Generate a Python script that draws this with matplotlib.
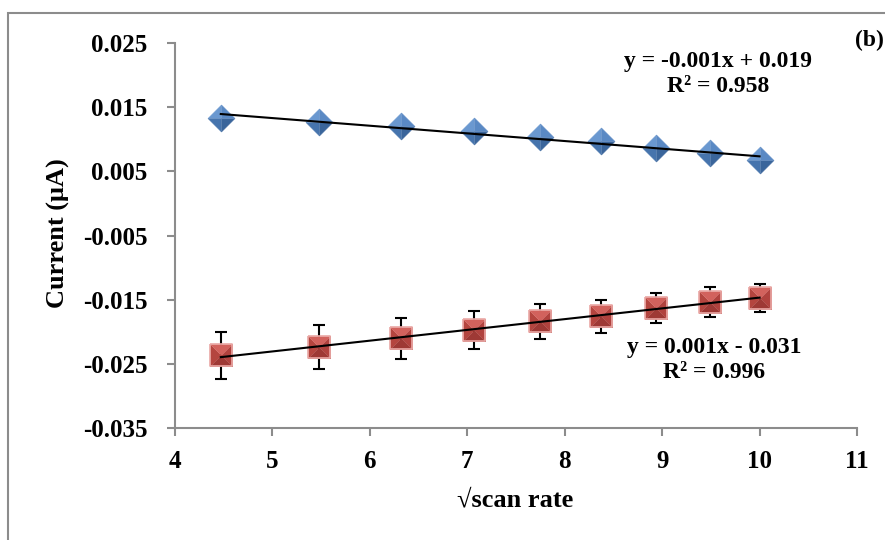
import matplotlib
matplotlib.use("Agg")
import matplotlib.pyplot as plt
import numpy as np
from matplotlib.patches import Rectangle

# sqrt of scan rate (20 ... 100 mV/s)
sqrt_scan = [4.47, 5.48, 6.32, 7.07, 7.75, 8.37, 8.94, 9.49, 10.0]

# anodic and cathodic peak currents
anodic = [0.0133, 0.0127, 0.0120, 0.0113, 0.0103, 0.0097, 0.0086, 0.0078, 0.0067]
cathodic = [-0.0237, -0.0224, -0.0210, -0.0197, -0.0184, -0.0176, -0.0163, -0.0154, -0.0147]
cathodic_err = [0.0036, 0.0034, 0.0032, 0.0030, 0.0028, 0.0026, 0.0024, 0.0023, 0.0022]

plt.rcParams["font.family"] = ["Liberation Serif", "DejaVu Serif"]
plt.rcParams["font.weight"] = "bold"

W, H = 885, 540
fig = plt.figure(figsize=(W / 100, H / 100), dpi=100)
fig.patch.set_facecolor("white")

# outer chart frame
fig.patches.append(Rectangle((8 / W, -0.1), 1.2, 1 - 13 / H + 0.1, transform=fig.transFigure,
                             fill=False, edgecolor="#8c8c8c", linewidth=1.5))

ax = fig.add_axes([175 / W, 1 - 428 / H, (857 - 175) / W, (428 - 43) / H])

x = np.array(sqrt_scan)


def bevel_markers(ax, xs, ys, corners, shades, size, edge=None):
    """Draw a faceted (bevelled) marker: one triangle per side, meeting at the centre."""
    n = len(corners)
    for i in range(n):
        tri = [corners[i], corners[(i + 1) % n], (0, 0)]
        ax.plot(xs, ys, linestyle="none", marker=tri, markersize=size,
                markerfacecolor=shades[i], markeredgecolor=shades[i], markeredgewidth=0.3, zorder=3)
    if edge is not None:
        ax.plot(xs, ys, linestyle="none", marker=corners + [corners[0]], markersize=size,
                markerfacecolor="none", markeredgecolor=edge, markeredgewidth=1.2, zorder=3)


# trend lines
for ys in (anodic, cathodic):
    k, b = np.polyfit(x, ys, 1)
    ax.plot([x.min(), x.max()], [k * x.min() + b, k * x.max() + b], color="black", lw=1.5, zorder=4)

ax.errorbar(x, cathodic, yerr=cathodic_err, fmt="none", ecolor="black", elinewidth=1.5,
            capsize=4.5, capthick=1.5, zorder=2)

# facet order: top-left, bottom-left, bottom-right, top-right
diamond = [(0, 1), (-1, 0), (0, -1), (1, 0)]
bevel_markers(ax, x, anodic, diamond,
              ["#6a98d0", "#4674ad", "#3a659b", "#5a89c4"], 19.5)

# facet order: left, bottom, right, top
square = [(-1, 1), (-1, -1), (1, -1), (1, 1)]
bevel_markers(ax, x, cathodic, square,
              ["#b4453f", "#9e3935", "#b0423e", "#d2625d"], 16, edge="#eaa8a5")

ax.set_xlim(4, 11)
ax.set_ylim(-0.035, 0.025)
ax.set_xticks(range(4, 12))
ax.set_yticks(np.arange(-0.035, 0.0251, 0.01))
ax.set_yticklabels(["-0.035", "-0.025", "-0.015", "-0.005", "0.005", "0.015", "0.025"])

for side in ("top", "right"):
    ax.spines[side].set_visible(False)
for side in ("left", "bottom"):
    ax.spines[side].set_color("#8c8c8c")
    ax.spines[side].set_linewidth(1.5)
ax.tick_params(axis="both", direction="out", length=5.8, width=1.5, color="#8c8c8c", labelsize=18)
ax.tick_params(axis="y", pad=14)
ax.tick_params(axis="x", pad=10)
for lbl in ax.get_xticklabels() + ax.get_yticklabels():
    lbl.set_fontweight("bold")

fig.text(58 / W, 1 - 233 / H, "Current (μA)", rotation=90, ha="center", va="center",
         fontsize=19, fontweight="bold")
fig.text(515 / W, 1 - 500 / H, "√scan rate", ha="center", va="center", fontsize=19, fontweight="bold")

fig.text(718 / W, 1 - 62 / H, "y = -0.001x + 0.019", ha="center", va="center", fontsize=17, fontweight="bold")
fig.text(718 / W, 1 - 87 / H, "R² = 0.958", ha="center", va="center", fontsize=17, fontweight="bold")
fig.text(714 / W, 1 - 348 / H, "y = 0.001x - 0.031", ha="center", va="center", fontsize=17, fontweight="bold")
fig.text(714 / W, 1 - 372 / H, "R² = 0.996", ha="center", va="center", fontsize=17, fontweight="bold")
fig.text(855 / W, 1 - 40 / H, "(b)", ha="left", va="center", fontsize=17, fontweight="bold")

fig.savefig("out.png", dpi=100, facecolor="white")
